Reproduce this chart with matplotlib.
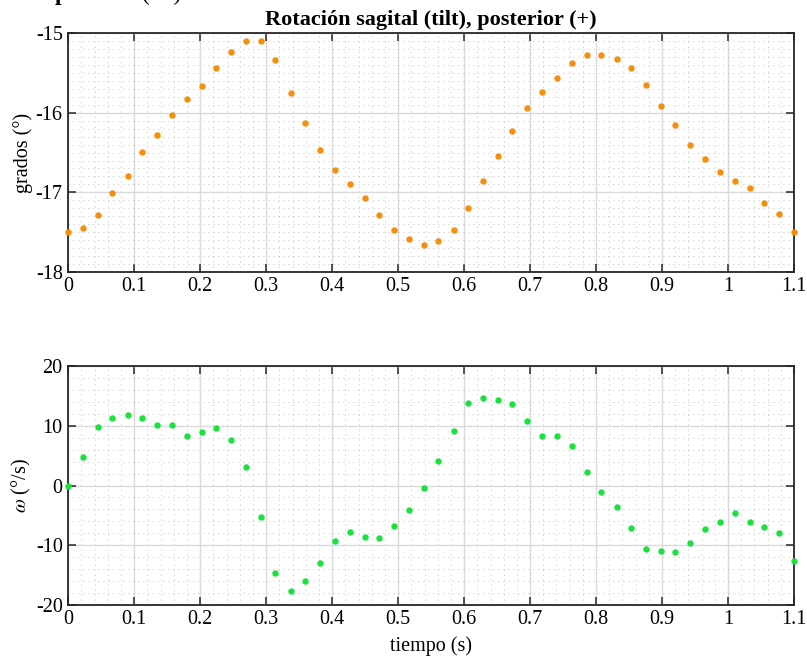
import matplotlib
matplotlib.use("Agg")
import matplotlib.pyplot as plt
from matplotlib.ticker import MultipleLocator

plt.rcParams['font.family'] = ['Liberation Serif', 'DejaVu Serif']
plt.rcParams['mathtext.fontset'] = 'stix'
plt.rcParams['axes.unicode_minus'] = False

# tiempo (s)
t = [0.000, 0.022, 0.045, 0.067, 0.090, 0.112, 0.135, 0.157, 0.180, 0.202,
     0.224, 0.247, 0.269, 0.292, 0.314, 0.337, 0.359, 0.382, 0.404, 0.427,
     0.449, 0.471, 0.494, 0.516, 0.539, 0.561, 0.584, 0.606, 0.629, 0.651,
     0.673, 0.696, 0.718, 0.741, 0.763, 0.786, 0.808, 0.831, 0.853, 0.876,
     0.898, 0.920, 0.943, 0.965, 0.988, 1.010, 1.033, 1.055, 1.078, 1.100]

# angulo (grados)
grados = [-17.50, -17.45, -17.29, -17.01, -16.79, -16.49, -16.28, -16.03, -15.83, -15.66,
          -15.43, -15.23, -15.09, -15.09, -15.33, -15.75, -16.13, -16.47, -16.72, -16.89,
          -17.07, -17.28, -17.47, -17.59, -17.66, -17.61, -17.48, -17.20, -16.86, -16.54,
          -16.23, -15.94, -15.74, -15.56, -15.37, -15.27, -15.27, -15.32, -15.43, -15.65,
          -15.91, -16.15, -16.41, -16.58, -16.74, -16.86, -16.95, -17.14, -17.27, -17.50]

# velocidad angular (grados/s)
omega = [0.0, 4.78, 9.76, 11.33, 11.83, 11.27, 10.21, 10.15, 8.31, 8.98,
         9.65, 7.64, 3.16, -5.34, -14.63, -17.76, -15.97, -12.95, -9.37, -7.86,
         -8.70, -8.81, -6.74, -4.17, -0.36, 4.06, 9.09, 13.79, 14.74, 14.35,
         13.62, 10.83, 8.36, 8.36, 6.63, 2.32, -1.15, -3.61, -7.19, -10.60,
         -10.99, -11.16, -9.65, -7.24, -6.13, -4.62, -6.18, -7.02, -8.03, -12.73]

xticks = [0, 0.1, 0.2, 0.3, 0.4, 0.5, 0.6, 0.7, 0.8, 0.9, 1.0, 1.1]
xticklabels = ['0', '0.1', '0.2', '0.3', '0.4', '0.5', '0.6', '0.7', '0.8', '0.9', '1', '1.1']

fs = 14.5
orange = '#F48F0C'
green = '#1BE13E'

fig = plt.figure(figsize=(8.07, 6.63), dpi=100)
ax1 = fig.add_axes([0.0846, 0.590, 0.8993, 0.3597])
ax2 = fig.add_axes([0.0846, 0.0879, 0.8993, 0.3596])


def style(ax, yminor):
    ax.set_xlim(0, 1.1)
    ax.set_xticks(xticks)
    ax.set_xticklabels(xticklabels)
    ax.xaxis.set_minor_locator(MultipleLocator(0.02))
    ax.yaxis.set_minor_locator(MultipleLocator(yminor))
    ax.set_axisbelow(True)
    ax.grid(which='major', color='#dadada', linewidth=1.0, linestyle='-')
    ax.grid(which='minor', color='#a8a8a8', linewidth=0.6, linestyle=(0, (1, 5)))
    ax.tick_params(which='major', direction='in', length=5.5, width=1.1,
                   top=True, right=True, labelsize=fs, colors='#262626', pad=4)
    ax.tick_params(which='minor', length=0)
    for s in ax.spines.values():
        s.set_color('#262626')
        s.set_linewidth(1.3)
    for lab in ax.get_xticklabels() + ax.get_yticklabels():
        lab.set_color('black')


ax1.plot(t, grados, 'o', color=orange, markersize=3.6, clip_on=False, zorder=3)
ax1.set_ylim(-18, -15)
ax1.set_yticks([-18, -17, -16, -15])
style(ax1, 0.1)
ax1.set_ylabel('grados (°)', fontsize=fs, labelpad=2)
ax1.set_title('Rotación sagital (tilt), posterior (+)', fontsize=16, fontweight='bold', pad=6)

ax2.plot(t, omega, 'o', color=green, markersize=3.6, clip_on=False, zorder=3)
ax2.set_ylim(-20, 20)
ax2.set_yticks([-20, -10, 0, 10, 20])
style(ax2, 2)
ax2.set_ylabel(r'$\omega$ (°/s)', fontsize=fs, labelpad=2)
ax2.set_xlabel('tiempo (s)', fontsize=fs, labelpad=5)

# texto recortado de la figura de arriba
fig.text(0.068, 1.0, 'p', fontsize=17, fontweight='bold', va='baseline')
fig.text(0.176, 1.0, '(    )', fontsize=17, va='baseline')

fig.savefig('out.png', dpi=100)
